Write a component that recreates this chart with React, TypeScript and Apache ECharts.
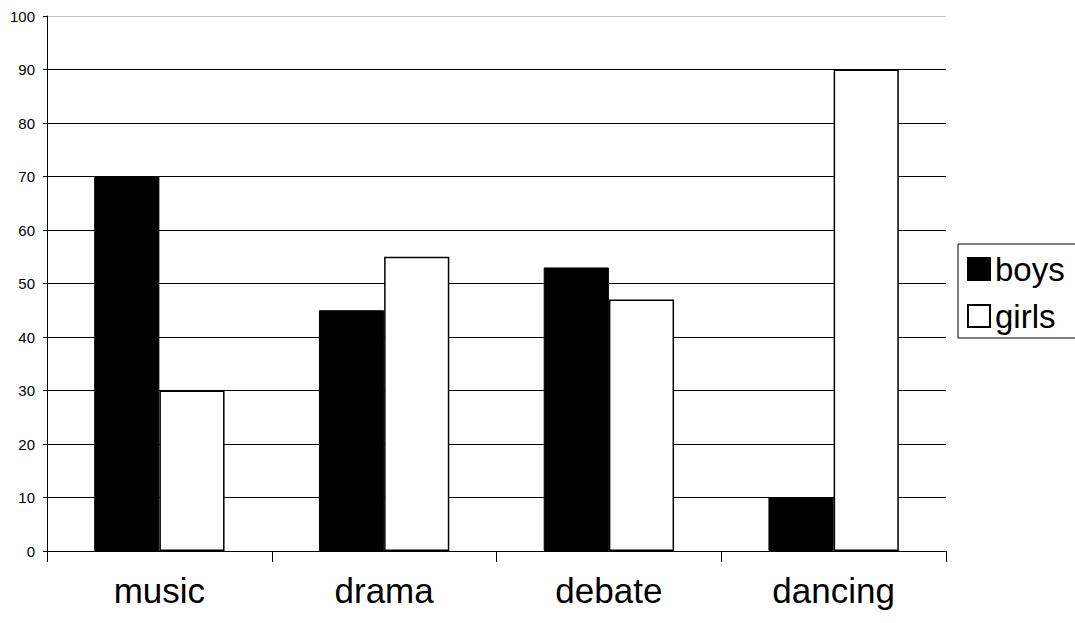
import React, { useEffect, useRef } from "react";
import * as echarts from "echarts";

const categories = ["music", "drama", "debate", "dancing"];
const boys = [70, 45, 53, 10];
const girls = [30, 55, 47, 90];
const seriesNames = ["boys", "girls"];

const FONT = "Arial, 'Liberation Sans', sans-serif";

export default function App() {
  const ref = useRef<HTMLDivElement>(null);
  useEffect(() => {
    if (!ref.current) return;
    const chart = echarts.init(ref.current, undefined, { renderer: "svg" });
    const gridColors = Array(10).fill("#000").concat(["#c8c8c8"]);
    chart.setOption({
      animation: false,
      backgroundColor: "#fff",
      textStyle: { fontFamily: FONT },
      grid: { left: 47, right: 129, top: 16, bottom: 72, containLabel: false },
      legend: {
        orient: "vertical",
        left: 958,
        top: 244,
        padding: [8, 12, 5, 9],
        borderColor: "#000",
        borderWidth: 1,
        itemWidth: 22,
        itemHeight: 22,
        itemGap: 13,
        itemTextGap: 7,
        icon: "rect",
        data: seriesNames,
        textStyle: { fontSize: 33, color: "#000", fontFamily: FONT, lineHeight: 34 },
      },
      xAxis: {
        type: "category",
        data: categories,
        axisLine: { lineStyle: { color: "#000", width: 1 } },
        axisTick: { show: true, length: 11, lineStyle: { color: "#000" } },
        axisLabel: { fontSize: 35, color: "#000", margin: 22, fontFamily: FONT },
      },
      yAxis: {
        type: "value",
        min: 0,
        max: 100,
        interval: 10,
        axisLine: { show: true, lineStyle: { color: "#000", width: 1 } },
        axisTick: { show: true, length: 4, lineStyle: { color: "#000" } },
        axisLabel: { fontSize: 15, color: "#000", margin: 12, fontFamily: FONT },
        splitLine: { show: true, lineStyle: { color: gridColors, width: 1 } },
      },
      series: [
        {
          name: seriesNames[0],
          type: "bar",
          data: boys,
          barGap: "0%",
          barCategoryGap: "42%",
          itemStyle: { color: "#000", borderColor: "#000", borderWidth: 1 },
        },
        {
          name: seriesNames[1],
          type: "bar",
          data: girls,
          barGap: "0%",
          barCategoryGap: "42%",
          itemStyle: { color: "#fff", borderColor: "#000", borderWidth: 1.5 },
        },
      ],
    });
    return () => chart.dispose();
  }, []);
  return <div ref={ref} style={{ width: 1075, height: 623, position: "absolute", left: 0, top: 0 }} />;
}
